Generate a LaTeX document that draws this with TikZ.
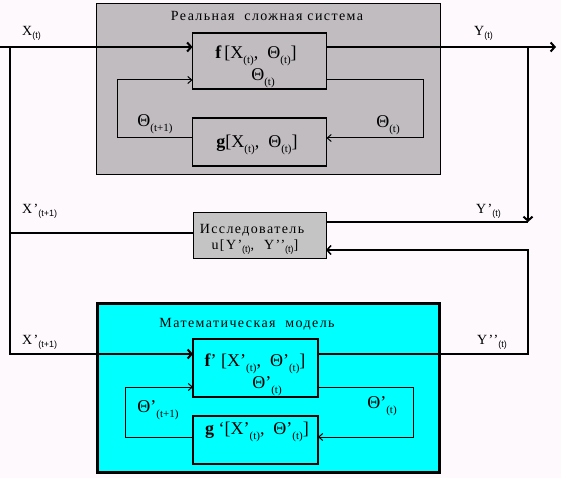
\documentclass[tikz,border=0pt]{standalone}
\usepackage{fontspec}
\setmainfont{Liberation Serif}
\newfontfamily\monof[LetterSpace=10]{Liberation Serif}
\newfontfamily\sansf{Liberation Sans}
\usetikzlibrary{arrows.meta}
\definecolor{bgc}{RGB}{253,249,253}
\definecolor{grayc}{RGB}{192,188,192}
\definecolor{ugray}{RGB}{196,196,196}
\definecolor{cyanc}{RGB}{0,255,255}
\newcommand{\lsub}[1]{\raisebox{-0.5ex}{\sansf\fontsize{9}{9}\selectfont #1}}
\newcommand{\bsub}[1]{\raisebox{-0.55ex}{\fontsize{11}{11}\selectfont #1}}
\begin{document}
\begin{tikzpicture}[x=1pt,y=-1pt,
 lab/.style={font=\monof\fontsize{14}{14}\selectfont, inner sep=0pt, anchor=west},
 ttl/.style={font=\monof\fontsize{14}{14}\selectfont, inner sep=0pt},
 fx/.style={font=\fontsize{18}{18}\selectfont, inner sep=0pt},
 box/.style={draw, line width=1.2pt, inner sep=0pt, outer sep=0pt, anchor=north west},
 main/.style={line width=2pt},
 mid/.style={line width=1.5pt},
 thinl/.style={line width=1pt},
 arr/.style={-{Straight Barb[length=4pt,width=9pt]}},
 tarr/.style={-{Straight Barb[length=4pt,width=7pt]}}
]
\useasboundingbox (0,0) rectangle (561,478);
\fill[bgc] (0,0) rectangle (561,478);

% boxes
\node[box, line width=1pt, fill=grayc, minimum width=344pt, minimum height=171pt] (real) at (96.5,3.5) {};
\node[box, line width=3pt, fill=cyanc, minimum width=342pt, minimum height=168.5pt] (model) at (97.5,303.5) {};
\node[box, line width=1pt, fill=ugray, minimum width=133pt, minimum height=46pt] (u) at (193,212) {};
\node[box, minimum width=134pt, minimum height=56pt] (f) at (192.5,33) {};
\node[box, minimum width=134pt, minimum height=48pt] (g) at (192.5,118) {};
\node[box, minimum width=125pt, minimum height=58pt] (f2) at (193,339) {};
\node[box, minimum width=125pt, minimum height=48pt] (g2) at (193,416) {};

% coordinates
\coordinate (in0) at (0,47);
\coordinate (lv) at (10,47);
\coordinate (rv) at (528,47);
\coordinate (outE) at (556,47);
\coordinate (rY) at (528,222);
\coordinate (lu) at (10,233);
\coordinate (lb2) at (10,354);
\coordinate (rl1) at (528,354);
\coordinate (rl2) at (528,250);
\coordinate (la) at (117,138);
\coordinate (lb) at (117,80);
\coordinate (ra) at (423,80);
\coordinate (rb) at (423,138);
\coordinate (la2) at (125,437);
\coordinate (lb3) at (125,387);
\coordinate (ra2) at (413,387);
\coordinate (rb2) at (413,437);

% main connectors
\draw[main, arr] (in0) -- (in0 -| f.west);
\draw[main, arr] (in0 -| f.east) -- (outE);
\draw[main, arr] (rv) -- (rY);
\draw[main] (rY -| u.east) -- (rY);
\draw[main] (lu) -- (lu -| u.west);
\draw[main, arr] (lv) -- (lb2) -- (lb2 -| f2.west);
\draw[mid, arr] (rl1 -| f2.east) -- (rl1) -- (rl2) -- (rl2 -| u.east);

% inner loops
\draw[thinl, tarr] (la -| g.west) -- (la) -- (lb) -- (lb -| f.west);
\draw[thinl, tarr] (ra -| f.east) -- (ra) -- (rb) -- (rb -| g.east);
\draw[thinl, tarr] (la2 -| g2.west) -- (la2) -- (lb3) -- (lb3 -| f2.west);
\draw[thinl, tarr] (ra2 -| f2.east) -- (ra2) -- (rb2) -- (rb2 -| g2.east);

% texts
\node[ttl] (realt) at (267,16) {Реальная\ \ сложная система};
\node[fx] (ft) at (256,56) {\textbf{f}\,[X\bsub{(t)},\ \ Θ\bsub{(t)}]};
\node[fx] (fth) at (263,78) {Θ\bsub{(t)}};
\node[fx] (gt) at (257,145) {\textbf{g}[X\bsub{(t)},\ \ Θ\bsub{(t)}]};
\node[fx] (th1) at (155,124) {Θ\bsub{(t+1)}};
\node[fx] (th2) at (388,125) {Θ\bsub{(t)}};

\node[ttl] (ut1) at (252,230) {Исследователь};
\node[ttl] (ut2) at (255,247) {u[Y’\lsub{(t)},\ \ Y’’\lsub{(t)}]};

\node[ttl] (mt) at (247,324) {Математическая\ \ модель};
\node[fx] (f2t) at (255,364) {\textbf{f}’ [X’\bsub{(t)},\ \ Θ’\bsub{(t)}]};
\node[fx] (f2th) at (267,386) {Θ’\bsub{(t)}};
\node[fx] (g2t) at (257,432) {\textbf{g} ‘[X’\bsub{(t)},\ \ Θ’\bsub{(t)}]};
\node[fx] (th3) at (158,410) {Θ’\bsub{(t+1)}};
\node[fx] (th4) at (382,406) {Θ’\bsub{(t)}};

\node[lab] (xl) at (22,33) {X\lsub{(t)}};
\node[lab] (yl) at (474,33) {Y\lsub{(t)}};
\node[lab] (x2l) at (22,211) {X’\lsub{(t+1)}};
\node[lab] (y2l) at (476,211) {Y’\lsub{(t)}};
\node[lab] (x3l) at (22,342) {X’\lsub{(t+1)}};
\node[lab] (y3l) at (477,342) {Y’’\lsub{(t)}};
\end{tikzpicture}
\end{document}
